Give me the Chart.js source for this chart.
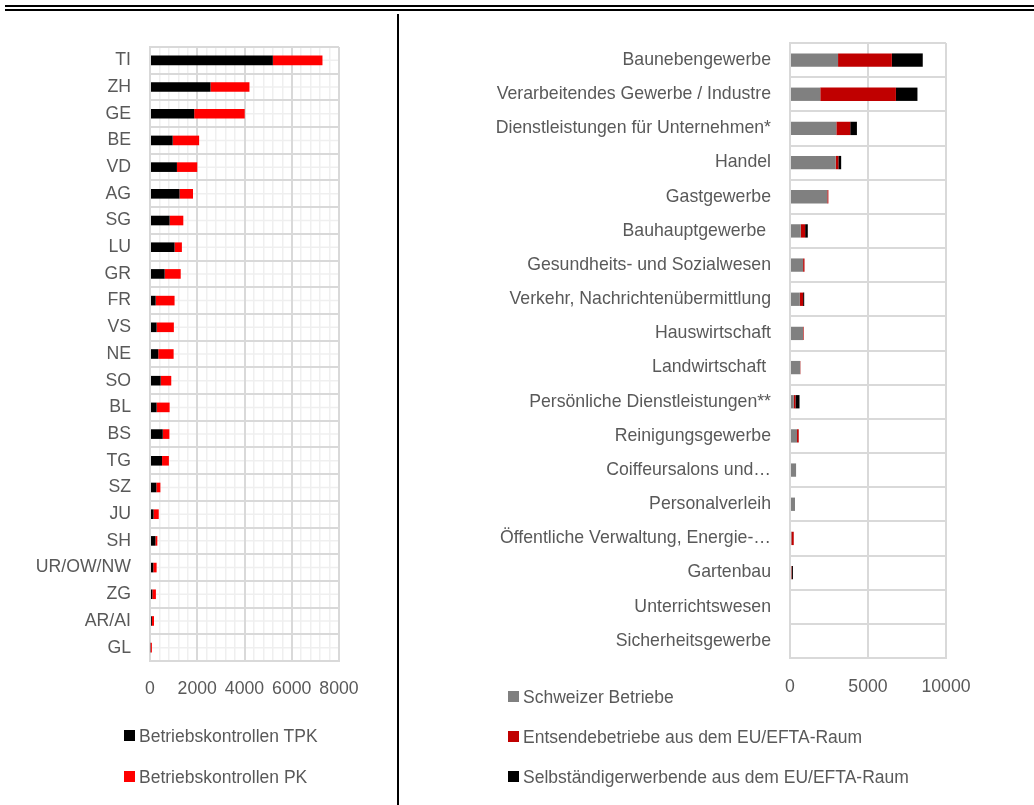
<!DOCTYPE html>
<html>
<head>
<meta charset="utf-8">
<script src="https://cdn.jsdelivr.net/npm/chart.js@4.4.1/dist/chart.umd.min.js"></script>
<style>
  html, body { margin: 0; padding: 0; background: #fff; }
  body { width: 1034px; height: 805px; position: relative; overflow: hidden;
         font-family: "Liberation Sans", Arial, sans-serif; }
  .rule { position: absolute; background: #000; }
  .panel { position: absolute; top: 0; height: 805px; }
  .legend { position: absolute; font-size: 17.5px; color: #595959; }
  .legend .item { position: absolute; white-space: nowrap; height: 20px; line-height: 20px; }
  .legend .box { position: absolute; left: 0; top: 4px; width: 11px; height: 11px; }
  .legend .txt { position: absolute; top: 0; }
</style>
</head>
<body>
<div class="rule" style="left:5px; top:5px; width:1029px; height:2px;"></div>
<div class="rule" style="left:5px; top:9px; width:1029px; height:2px;"></div>
<div class="rule" style="left:397px; top:14px; width:2px; height:791px;"></div>

<div class="panel" style="left:0; width:398px;"><canvas id="cantons"></canvas></div>
<div class="panel" style="left:398px; width:636px;"><canvas id="branches"></canvas></div>

<div class="legend" id="legendLeft"></div>
<div class="legend" id="legendRight"></div>

<script>
// Betriebskontrollen nach Kanton
const cantons = ['TI', 'ZH', 'GE', 'BE', 'VD', 'AG', 'SG', 'LU', 'GR', 'FR', 'VS', 'NE',
                 'SO', 'BL', 'BS', 'TG', 'SZ', 'JU', 'SH', 'UR/OW/NW', 'ZG', 'AR/AI', 'GL'];
const controlsTPK = [5200, 2560, 1870, 960, 1140, 1250, 830, 1040, 620, 240, 280, 350,
                     450, 280, 540, 510, 270, 150, 230, 140, 100, 80, 30];
const controlsPK = [2100, 1650, 2140, 1120, 860, 570, 580, 310, 680, 800, 730, 650,
                    450, 550, 280, 290, 170, 220, 80, 140, 150, 90, 50];
const cantonTicks = [0, 2000, 4000, 6000, 8000];

// Kontrollierte Betriebe nach Branche
const branches = ['Baunebengewerbe', 'Verarbeitendes Gewerbe / Industre',
  'Dienstleistungen für Unternehmen*', 'Handel', 'Gastgewerbe', 'Bauhauptgewerbe ',
  'Gesundheits- und Sozialwesen', 'Verkehr, Nachrichtenübermittlung', 'Hauswirtschaft',
  'Landwirtschaft ', 'Persönliche Dienstleistungen**', 'Reinigungsgewerbe',
  'Coiffeursalons und…', 'Personalverleih', 'Öffentliche Verwaltung, Energie-…',
  'Gartenbau', 'Unterrichtswesen', 'Sicherheitsgewerbe'];
const swissFirms = [3080, 1940, 2970, 2930, 2390, 690, 840, 630, 840, 650, 240, 450,
                    390, 320, 90, 90, 0, 0];
const postedFirms = [3450, 4850, 890, 170, 70, 280, 90, 210, 40, 20, 110, 110,
                     0, 0, 150, 40, 0, 0];
const selfEmployed = [1980, 1380, 430, 180, 0, 170, 0, 70, 0, 0, 260, 0,
                      0, 0, 0, 60, 0, 0];
const branchTicks = [0, 5000, 10000];

const TEXT = '#595959';
const GRID = '#d9d9d9';
const GRID_MINOR = '#efefef';
const FONT = { family: "'Liberation Sans', Arial, sans-serif", size: 17.7 };

// thin lines through the middle of every category row
const rowCenterLines = {
  id: 'rowCenterLines',
  beforeDraw(chart, args, opts) {
    if (!opts.enabled) return;
    const { ctx, chartArea: a, scales: { y } } = chart;
    ctx.save();
    ctx.strokeStyle = GRID_MINOR;
    ctx.lineWidth = 1.5;
    for (let i = 0; i < y.ticks.length; i++) {
      const py = y.getPixelForTick(i);
      ctx.beginPath();
      ctx.moveTo(a.left, py);
      ctx.lineTo(a.right, py);
      ctx.stroke();
    }
    ctx.restore();
  }
};

function buildLegend(el, left, top, gap, datasets) {
  el.style.left = left + 'px';
  el.style.top = top + 'px';
  datasets.forEach((ds, i) => {
    const item = document.createElement('div');
    item.className = 'item';
    item.style.top = (i * gap) + 'px';
    const box = document.createElement('span');
    box.className = 'box';
    box.style.background = ds.backgroundColor;
    const txt = document.createElement('span');
    txt.className = 'txt';
    txt.style.left = '15px';
    txt.textContent = ds.label;
    item.appendChild(box);
    item.appendChild(txt);
    el.appendChild(item);
  });
}

Chart.defaults.font = FONT;
Chart.defaults.color = TEXT;

// left panel
const leftSets = [
  { label: 'Betriebskontrollen TPK', data: controlsTPK, backgroundColor: '#000000' },
  { label: 'Betriebskontrollen PK', data: controlsPK, backgroundColor: '#ff0000' }
];
new Chart(document.getElementById('cantons'), {
  type: 'bar',
  data: {
    labels: cantons,
    datasets: leftSets.map(d => ({ ...d, categoryPercentage: 1, barPercentage: 0.36 }))
  },
  plugins: [rowCenterLines],
  options: {
    indexAxis: 'y',
    responsive: true,
    maintainAspectRatio: false,
    animation: false,
    layout: { padding: { left: 0, right: 59, top: 47, bottom: 104 } },
    plugins: { legend: { display: false }, tooltip: { enabled: false }, rowCenterLines: { enabled: true } },
    scales: {
      x: {
        stacked: true, min: 0, max: 8000,
        afterBuildTicks(s) {
          const t = [];
          for (let v = 0; v <= 8000; v += 400) t.push({ value: v });
          s.ticks = t;
        },
        afterFit(s) { s.height = 40; },
        ticks: {
          autoSkip: false, maxRotation: 0, padding: 17, color: TEXT,
          callback: v => cantonTicks.includes(v) ? String(v) : ''
        },
        grid: {
          drawTicks: false,
          color: c => cantonTicks.includes(c.tick.value) ? GRID : GRID_MINOR,
          lineWidth: c => cantonTicks.includes(c.tick.value) ? 2 : 1.5
        },
        border: { color: GRID, width: 2 }
      },
      y: {
        stacked: true,
        afterFit(s) { s.width = 150; },
        ticks: { padding: 19, color: TEXT, autoSkip: false },
        grid: { drawTicks: false, color: GRID, lineWidth: 2 },
        border: { color: GRID, width: 2 }
      }
    }
  }
});
buildLegend(document.getElementById('legendLeft'), 124, 726, 41, leftSets);

// right panel
const rightSets = [
  { label: 'Schweizer Betriebe', data: swissFirms, backgroundColor: '#808080' },
  { label: 'Entsendebetriebe aus dem EU/EFTA-Raum', data: postedFirms, backgroundColor: '#c00000' },
  { label: 'Selbständigerwerbende aus dem EU/EFTA-Raum', data: selfEmployed, backgroundColor: '#000000' }
];
new Chart(document.getElementById('branches'), {
  type: 'bar',
  data: {
    labels: branches,
    datasets: rightSets.map(d => ({ ...d, categoryPercentage: 1, barPercentage: 0.39 }))
  },
  options: {
    indexAxis: 'y',
    responsive: true,
    maintainAspectRatio: false,
    animation: false,
    layout: { padding: { left: 0, right: 88, top: 43, bottom: 107 } },
    plugins: { legend: { display: false }, tooltip: { enabled: false } },
    scales: {
      x: {
        stacked: true, min: 0, max: 10000,
        afterBuildTicks(s) { s.ticks = branchTicks.map(v => ({ value: v })); },
        afterFit(s) { s.height = 40; },
        ticks: { autoSkip: false, maxRotation: 0, padding: 18, color: TEXT, callback: v => String(v) },
        grid: { drawTicks: false, color: GRID, lineWidth: 2 },
        border: { color: GRID, width: 2 }
      },
      y: {
        stacked: true,
        afterFit(s) { s.width = 392; },
        ticks: { padding: 19, color: TEXT, autoSkip: false },
        grid: { drawTicks: false, color: GRID, lineWidth: 2 },
        border: { color: GRID, width: 2 }
      }
    }
  }
});
buildLegend(document.getElementById('legendRight'), 508, 687, 40, rightSets);
</script>
</body>
</html>
